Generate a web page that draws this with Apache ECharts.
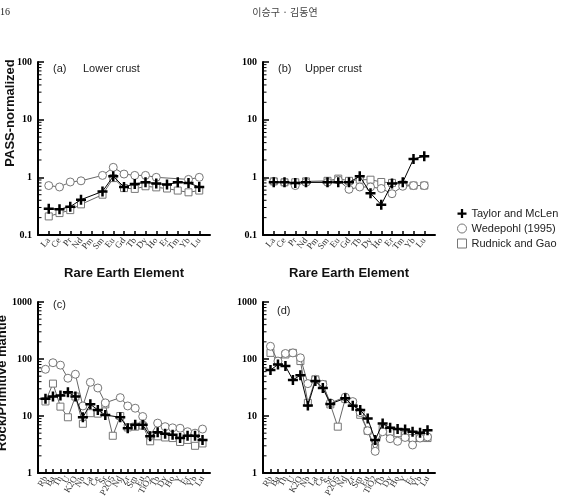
<!DOCTYPE html>
<html>
<head>
<meta charset="utf-8">
<script src="https://cdn.jsdelivr.net/npm/echarts@6/dist/echarts.min.js"></script>
<style>
html,body{margin:0;padding:0;background:#fff;}
#main{width:571px;height:504px;}
</style>
</head>
<body>
<div id="main"></div>
<script>
// categories
var reeNames = ['La','Ce','Pr','Nd','Pm','Sm','Eu','Gd','Tb','Dy','Ho','Er','Tm','Yb','Lu'];
var spiderNames = ['Rb','Ba','Th','U','K2O','Nb','La','Ce','Sr','P2O5','Nd','Zr','Sm','Eu','TiO2','Tb','Dy','Ho','Y','Er','Yb','Lu'];

// (a) lower crust, PAAS-normalized
var lowerTaylor   = [0.285, 0.28, 0.31, 0.41, null, 0.57, 1.04, 0.68, 0.77, 0.82, 0.78, 0.75, 0.82, 0.80, 0.68];
var lowerWedepohl = [0.72, 0.68, 0.83, 0.87, null, 1.08, 1.49, 1.14, 1.08, 1.08, 1.0, null, null, 0.92, 1.0];
var lowerRudnick  = [0.21, 0.24, 0.27, 0.34, null, 0.50, 0.97, 0.65, 0.63, 0.70, 0.67, 0.64, 0.59, 0.55, 0.59];

// (b) upper crust, PAAS-normalized
var upperTaylor   = [0.82, 0.82, 0.80, 0.82, null, 0.82, 0.82, 0.82, 1.04, 0.53, 0.335, 0.78, 0.82, 2.08, 2.32];
var upperWedepohl = [0.85, 0.82, 0.72, 0.82, null, 0.82, 0.90, 0.62, 0.68, 0.68, 0.64, 0.52, 0.70, 0.72, 0.72];
var upperRudnick  = [0.85, 0.82, 0.82, 0.85, null, 0.87, 0.95, 0.87, 0.91, 0.91, 0.83, 0.80, 0.75, 0.72, 0.72];

// (c) lower crust, primitive-mantle-normalized
var lcTaylor   = [20, 22, 23, 26, 22, 9.5, 16, 12.8, 10.4, null, 9.5, 6.1, 7.0, 7.0, 4.4, 5.2, 4.9, 4.7, 4.1, 4.5, 4.5, 3.8];
var lcWedepohl = [66, 86, 78, 46, 54, 15, 39, 31, 17, null, 21, 15, 13.7, 9.8, 4.5, 7.5, 6.5, 6.2, 6.1, 5.3, 5.0, 5.9];
var lcRudnick  = [18, 37, 14.6, 9.5, 22, 7.3, 11.2, 11, 16, 4.5, 10, 6.3, 6.5, 6.8, 3.6, 4.4, 4.2, 4.1, 3.5, 3.8, 3.0, 3.3];

// (d) upper crust, primitive-mantle-normalized
var ucTaylor   = [64, 80, 75, 43, 52, 15.3, 41, 31, 16.3, null, 20.5, 15.2, 12.8, 9, 3.8, 7.4, 6.2, 5.9, 5.8, 5.3, 5.1, 5.6];
var ucWedepohl = [167, 92, 125, 128, 105, 37, 44, 36, 17, null, 21.5, 17.9, 11.5, 5.5, 2.4, 5.3, 4.0, 3.6, 4.2, 3.1, 4.1, 4.3];
var ucRudnick  = [128, 92, 120, 128, 92, 17, 44, 36, 16, 6.5, 20, 17, 10.5, 5.5, 2.8, 6.0, 5.3, 5.0, 4.6, 4.1, 4.1, 4.1];

// log-axis minor tick multipliers and decades
var minorSteps = [2, 3, 4, 5, 6, 7, 8, 9];
var decadesTop = [0.1, 1, 10];
var decadesBottom = [1, 10, 100];

var nameT = 'Taylor and McLen';
var nameW = 'Wedepohl (1995)';
var nameR = 'Rudnick and Gao';
var crossPath = 'path://M3,0H5V3H8V5H5V8H3V5H0V3H3Z';

function padCats(arr) { return [''].concat(arr, [' ']); }
function padData(arr) { return [null].concat(arr, [null]); }

var grids = [
  {left: 38, top: 62, width: 172, height: 173},
  {left: 263, top: 62, width: 172, height: 173},
  {left: 38, top: 302, width: 172, height: 171},
  {left: 263, top: 302, width: 172, height: 171}
];

function xAx(idx, names, rot, title) {
  return {
    type: 'category', gridIndex: idx, data: padCats(names), boundaryGap: false,
    axisLine: {lineStyle: {color: '#000', width: 2}},
    axisTick: {inside: true, length: 4, lineStyle: {color: '#000', width: 1.5},
      interval: function (i, v) { return v.trim() !== ''; }},
    axisLabel: {interval: 0, rotate: rot, fontSize: 9, fontFamily: 'Liberation Serif', color: '#333', margin: 4},
    splitLine: {show: false},
    name: title, nameLocation: 'middle', nameGap: 32,
    nameTextStyle: {fontFamily: 'Liberation Sans', fontWeight: 'bold', fontSize: 13, color: '#111'}
  };
}
function yAx(idx, min, max) {
  return {
    type: 'log', logBase: 10, gridIndex: idx, min: min, max: max,
    axisLine: {show: true, lineStyle: {color: '#000', width: 2}},
    axisTick: {show: true, inside: true, length: 6, lineStyle: {color: '#000', width: 1.5}},
    axisLabel: {fontFamily: 'Liberation Serif', fontWeight: 'bold', fontSize: 10, color: '#000', margin: 6,
      formatter: function (v) { return String(parseFloat(Number(v).toPrecision(3))); }},
    splitLine: {show: false}
  };
}
function ser(name, idx, data) {
  var s = {
    name: name, type: 'line', xAxisIndex: idx, yAxisIndex: idx, data: padData(data),
    connectNulls: true, showAllSymbol: true
  };
  if (name === nameT) {
    s.symbol = crossPath; s.symbolSize = 10; s.z = 4;
    s.lineStyle = {color: '#000', width: 1};
    s.itemStyle = {color: '#000'};
  } else if (name === nameW) {
    s.symbol = 'circle'; s.symbolSize = 8; s.z = 3;
    s.lineStyle = {color: '#666', width: 1};
    s.itemStyle = {color: '#fff', borderColor: '#777', borderWidth: 1};
  } else {
    s.symbol = 'rect'; s.symbolSize = 7; s.z = 2;
    s.lineStyle = {color: '#666', width: 1};
    s.itemStyle = {color: '#fff', borderColor: '#777', borderWidth: 1};
  }
  return s;
}
// minor ticks on the log y axes, placed through the axis scale
function minorTicks(idx, decades) {
  var vals = [];
  decades.forEach(function (d) { minorSteps.forEach(function (m) { vals.push([0, d * m]); }); });
  return {
    type: 'custom', xAxisIndex: idx, yAxisIndex: idx, data: vals, silent: true, z: 1,
    renderItem: function (params, api) {
      var p = api.coord([api.value(0), api.value(1)]);
      return {type: 'line', shape: {x1: p[0], y1: p[1], x2: p[0] + 3.5, y2: p[1]},
        style: {stroke: '#000', lineWidth: 1}};
    }
  };
}

var txt = function (x, y, text, font, extra) {
  var st = {text: text, font: font, fill: '#222'};
  for (var k in extra) st[k] = extra[k];
  return {type: 'text', x: x, y: y, style: st};
};

var chart = echarts.init(document.getElementById('main'));
chart.setOption({
  animation: false,
  backgroundColor: '#fff',
  grid: grids,
  xAxis: [
    xAx(0, reeNames, 50, 'Rare Earth Element'),
    xAx(1, reeNames, 50, 'Rare Earth Element'),
    xAx(2, spiderNames, 60, ''),
    xAx(3, spiderNames, 60, '')
  ],
  yAxis: [yAx(0, 0.1, 100), yAx(1, 0.1, 100), yAx(2, 1, 1000), yAx(3, 1, 1000)],
  legend: {
    orient: 'vertical', left: 452, top: 203, itemWidth: 9, itemHeight: 9, itemGap: 4,
    textStyle: {fontFamily: 'Liberation Sans', fontSize: 11, color: '#222'},
    data: [
      {name: nameT, icon: crossPath, itemStyle: {color: '#000'}},
      {name: nameW, icon: 'circle', itemStyle: {color: '#fff', borderColor: '#777', borderWidth: 1}},
      {name: nameR, icon: 'rect', itemStyle: {color: '#fff', borderColor: '#777', borderWidth: 1}}
    ]
  },
  graphic: [
    txt(0, 7, '16', '10px "Liberation Serif"', {}),
    txt(285, 7, '이승구 · 김동연', '10px "Noto Sans CJK KR"', {align: 'center', fill: '#444'}),
    txt(53, 63, '(a)', '11px "Liberation Sans"', {}),
    txt(83, 63, 'Lower crust', '11px "Liberation Sans"', {}),
    txt(278, 63, '(b)', '11px "Liberation Sans"', {}),
    txt(305, 63, 'Upper crust', '11px "Liberation Sans"', {}),
    txt(53, 299, '(c)', '11px "Liberation Sans"', {}),
    txt(277, 305, '(d)', '11px "Liberation Sans"', {}),
    {type: 'text', x: 10, y: 113, rotation: Math.PI / 2,
      style: {text: 'PASS-normalized', font: 'bold 13px "Liberation Sans"', fill: '#111', align: 'center', verticalAlign: 'middle'}},
    {type: 'text', x: 2, y: 383, rotation: Math.PI / 2,
      style: {text: 'Rock/Primitive mantle', font: 'bold 13px "Liberation Sans"', fill: '#111', align: 'center', verticalAlign: 'middle'}}
  ],
  series: [
    minorTicks(0, decadesTop), minorTicks(1, decadesTop), minorTicks(2, decadesBottom), minorTicks(3, decadesBottom),
    ser(nameT, 0, lowerTaylor), ser(nameW, 0, lowerWedepohl), ser(nameR, 0, lowerRudnick),
    ser(nameT, 1, upperTaylor), ser(nameW, 1, upperWedepohl), ser(nameR, 1, upperRudnick),
    ser(nameT, 2, lcTaylor), ser(nameW, 2, lcWedepohl), ser(nameR, 2, lcRudnick),
    ser(nameT, 3, ucTaylor), ser(nameW, 3, ucWedepohl), ser(nameR, 3, ucRudnick)
  ]
});
</script>
</body>
</html>
